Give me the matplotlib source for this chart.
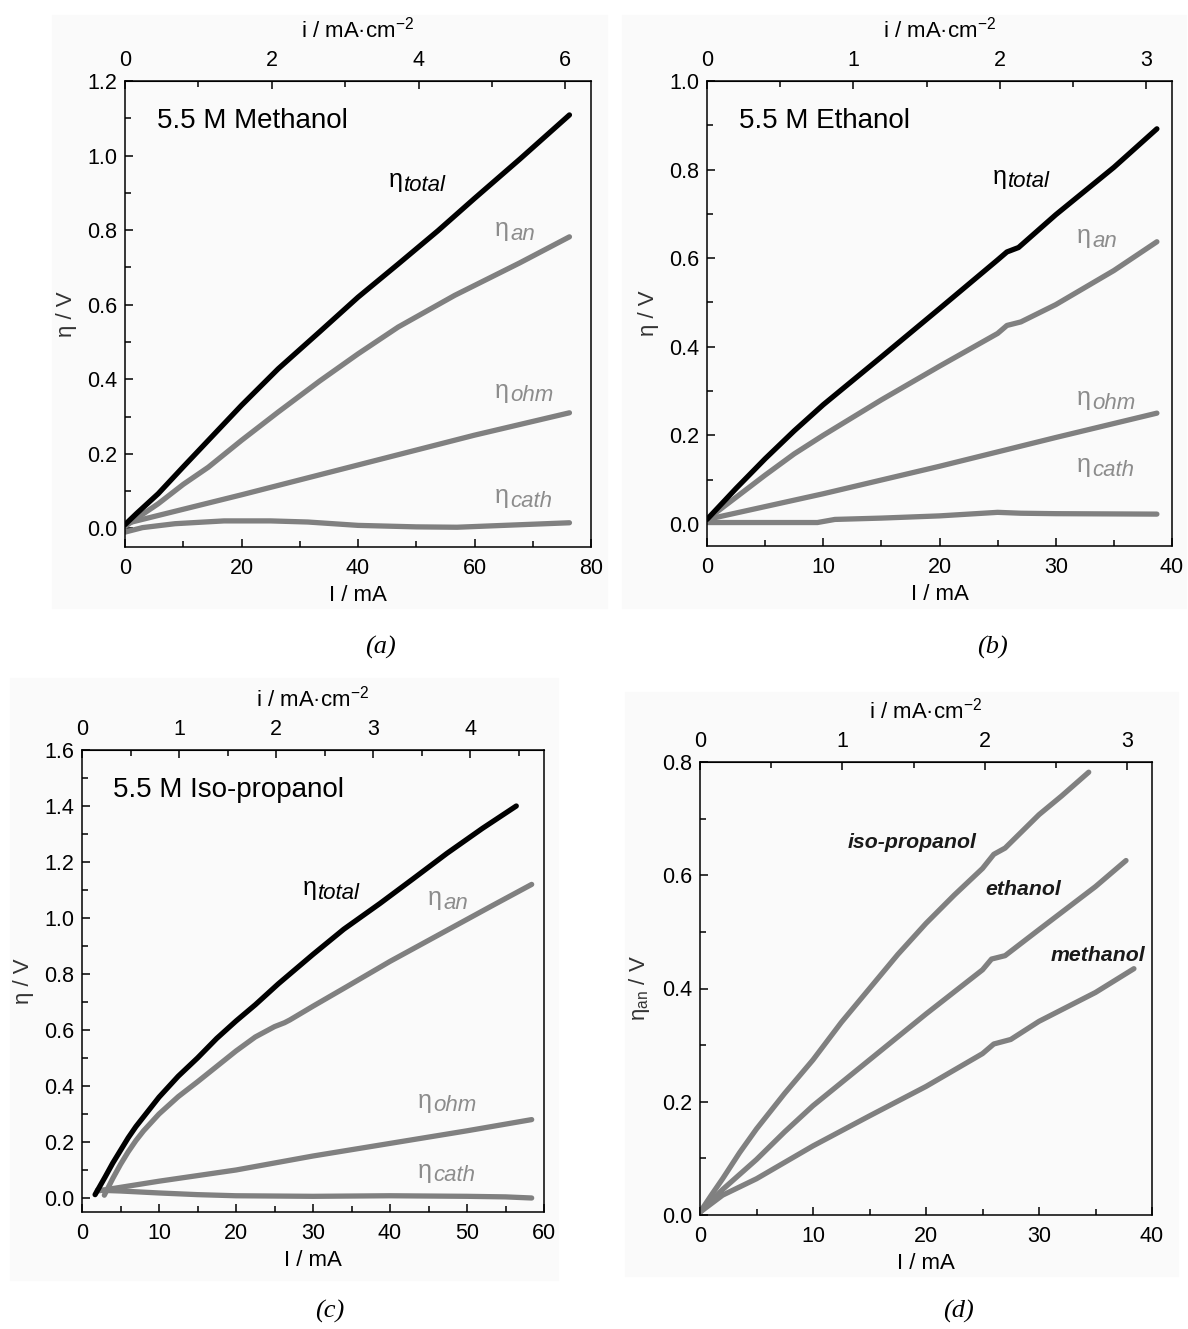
import matplotlib.pyplot as plt
from matplotlib.patches import Rectangle
from matplotlib.ticker import MultipleLocator, FormatStrFormatter

plt.rcParams['font.family'] = ['Liberation Sans', 'DejaVu Sans']
plt.rcParams['mathtext.fontset'] = 'custom'
plt.rcParams['mathtext.rm'] = 'Liberation Sans'
plt.rcParams['mathtext.it'] = 'Liberation Sans:italic'
plt.rcParams['mathtext.sf'] = 'Liberation Sans'

AREA = 12.6  # cm2, current -> current density

# (a) 5.5 M methanol
meoh_I_tot = [0, 2, 5.7, 10, 14.3, 20, 26.3, 33.4, 40, 46.9, 53.7, 60, 67.75, 76.3]
meoh_total = [0.01, 0.04, 0.093, 0.165, 0.236, 0.33, 0.428, 0.527, 0.62, 0.709, 0.798, 0.885, 0.99, 1.109]
meoh_I_an = [0, 2, 5.7, 10, 14.3, 20, 26.3, 33.4, 40, 46.9, 56.6, 67.75, 76.3]
meoh_an = [0.005, 0.027, 0.066, 0.118, 0.164, 0.236, 0.312, 0.395, 0.468, 0.54, 0.625, 0.712, 0.782]
meoh_I_ohm = [0, 20, 40, 60, 76.3]
meoh_ohm = [0.0125, 0.09, 0.17, 0.25, 0.31]
meoh_I_cath = [0, 3, 8.6, 17, 25, 31.4, 40, 50, 57, 65, 76.3]
meoh_cath = [-0.01, 0.002, 0.0125, 0.02, 0.02, 0.017, 0.008, 0.004, 0.003, 0.008, 0.015]

# (b) 5.5 M ethanol
etoh_I_tot = [0, 2.5, 5, 7.5, 10, 15, 20, 25, 25.8, 26.8, 30, 35, 38.7]
etoh_total = [0.01, 0.08, 0.147, 0.21, 0.269, 0.377, 0.486, 0.596, 0.614, 0.624, 0.698, 0.805, 0.892]
etoh_I_an = [0, 2.5, 5, 7.5, 10, 15, 20, 25, 25.8, 27, 30, 35, 38.7]
etoh_an = [0.01, 0.06, 0.11, 0.158, 0.20, 0.28, 0.356, 0.43, 0.448, 0.456, 0.495, 0.572, 0.637]
etoh_I_ohm = [0, 10, 20, 30, 38.7]
etoh_ohm = [0.01, 0.068, 0.13, 0.195, 0.25]
etoh_I_cath = [0, 9.5, 11, 15, 20, 25, 27, 30, 38.7]
etoh_cath = [0.003, 0.003, 0.01, 0.013, 0.018, 0.026, 0.024, 0.023, 0.022]

# (c) 5.5 M iso-propanol
ipa_I_tot = [1.7, 3, 4, 5, 6, 7, 8, 9, 10, 12.5, 15, 17.5, 20, 22.5, 25.5, 30, 34, 38.7, 43, 47.4,
             52, 56.4]
ipa_total = [0.012, 0.075, 0.125, 0.17, 0.215, 0.255, 0.29, 0.325, 0.36, 0.435, 0.50, 0.57, 0.632,
             0.69, 0.765, 0.87, 0.96, 1.052, 1.14, 1.231, 1.32, 1.40]
ipa_I_an = [2.9, 4, 5, 6, 7, 8, 9, 10, 12.5, 15, 17.5, 20, 22.5, 25, 26.3, 27, 30, 34.4, 40, 47.4,
            53, 58.4]
ipa_an = [0.01, 0.07, 0.12, 0.165, 0.205, 0.24, 0.27, 0.30, 0.362, 0.415, 0.47, 0.525, 0.575, 0.612,
          0.626, 0.636, 0.685, 0.755, 0.845, 0.956, 1.04, 1.12]
ipa_I_ohm = [2, 10, 20, 30, 40, 50, 58.4]
ipa_ohm = [0.025, 0.06, 0.10, 0.15, 0.195, 0.24, 0.28]
ipa_I_cath = [2, 5, 10, 15, 20, 30, 40, 50, 55, 58.4]
ipa_cath = [0.028, 0.025, 0.018, 0.012, 0.008, 0.006, 0.008, 0.006, 0.004, 0.0]

# (d) anode overpotential comparison
d_ipa_I = [0, 1, 2, 3.5, 5, 7.5, 10, 12.5, 15, 17.5, 20, 22.5, 25, 26, 27, 30, 32, 34.4]
d_ipa = [0.005, 0.035, 0.064, 0.11, 0.152, 0.215, 0.274, 0.34, 0.40, 0.46, 0.515, 0.565, 0.612, 0.637,
         0.648, 0.707, 0.74, 0.782]
d_etoh_I = [0, 2, 5, 7.5, 10, 15, 20, 25, 25.8, 27, 30, 35, 37.7]
d_etoh = [0.005, 0.045, 0.098, 0.147, 0.193, 0.274, 0.355, 0.433, 0.452, 0.458, 0.504, 0.58, 0.626]
d_meoh_I = [0, 2, 5, 10, 15, 20, 25, 26, 27.5, 30, 35, 38.4]
d_meoh = [0.005, 0.035, 0.064, 0.122, 0.175, 0.227, 0.285, 0.302, 0.31, 0.342, 0.393, 0.435]

GREY = '#808080'
LABEL_GREY = '#8c8c8c'
LW = 3.8
TICK_FS = 15.5
LABEL_FS = 16

fig = plt.figure(figsize=(11.88, 13.29), dpi=100)
W, H = 1188, 1329


def px_rect(x0, y0, x1, y1):
    return [x0 / W, 1 - y1 / H, (x1 - x0) / W, (y1 - y0) / H]


# faint panel backgrounds as in the scanned original
for x0, y0, x1, y1 in [(52, 15, 607, 608), (622, 15, 1186, 608),
                       (10, 678, 558, 1280), (625, 692, 1178, 1276)]:
    fig.patches.append(Rectangle((x0 / W, 1 - y1 / H), (x1 - x0) / W, (y1 - y0) / H,
                                 transform=fig.transFigure, color='#fafafa', zorder=-5))


def setup(ax, xlim, ylim, xmaj, xmin, ymaj, ymin, top_major, top_minor, ylabel):
    ax.set_facecolor('none')
    ax.set_xlim(*xlim)
    ax.set_ylim(*ylim)
    ax.xaxis.set_major_locator(MultipleLocator(xmaj))
    ax.xaxis.set_minor_locator(MultipleLocator(xmin))
    ax.yaxis.set_major_locator(MultipleLocator(ymaj))
    ax.yaxis.set_minor_locator(MultipleLocator(ymin))
    ax.yaxis.set_major_formatter(FormatStrFormatter('%.1f'))
    ax.tick_params(which='both', direction='in', labelsize=TICK_FS, width=1.1)
    ax.tick_params(which='major', length=6)
    ax.tick_params(which='minor', length=4)
    ax.tick_params(axis='x', which='major', pad=8)
    ax.tick_params(axis='y', which='major', pad=5.5)
    for s in ax.spines.values():
        s.set_linewidth(1.1)
    ax.set_xlabel('I / mA', fontsize=LABEL_FS, labelpad=4)
    ax.set_ylabel(ylabel, fontsize=LABEL_FS, labelpad=7, color='#333333')
    sec = ax.secondary_xaxis('top', functions=(lambda I: I / AREA, lambda i: i * AREA))
    sec.set_xticks(top_major)
    sec.set_xticks(top_minor, minor=True)
    sec.tick_params(which='both', direction='in', labelsize=TICK_FS, width=1.1)
    sec.tick_params(which='major', length=6, pad=7)
    sec.tick_params(which='minor', length=4)
    sec.set_xlabel('i / mA\u00b7cm$^{\\mathrm{-2}}$', fontsize=LABEL_FS, labelpad=9)
    return sec


def curve(ax, x, y, color):
    ax.plot(x, y, color=color, lw=LW, solid_capstyle='round', solid_joinstyle='round')


def eta(ax, x, y, sub, color):
    t = ax.text(x, y, 'η', fontsize=18, color=color, va='baseline', ha='left')
    ax.annotate(sub, xy=(1, 0), xycoords=t, xytext=(1, 1), textcoords='offset points',
                fontsize=16, fontstyle='italic', color=color, va='baseline', ha='left')


# (a)
ax = fig.add_axes(px_rect(125, 81, 591, 547))
setup(ax, (0, 80), (-0.05, 1.2), 20, 10, 0.2, 0.1, [0, 2, 4, 6], [1, 3, 5], 'η / V')
curve(ax, meoh_I_cath, meoh_cath, GREY)
curve(ax, meoh_I_ohm, meoh_ohm, GREY)
curve(ax, meoh_I_an, meoh_an, GREY)
curve(ax, meoh_I_tot, meoh_total, 'black')
ax.text(5.5, 1.093, '5.5 M Methanol', fontsize=20, va='center')
eta(ax, 45.3, 0.915, 'total', 'black')
eta(ax, 63.5, 0.784, 'an', LABEL_GREY)
eta(ax, 63.5, 0.35, 'ohm', LABEL_GREY)
eta(ax, 63.5, 0.068, 'cath', LABEL_GREY)

# (b)
ax = fig.add_axes(px_rect(707, 81, 1172, 546))
setup(ax, (0, 40), (-0.05, 1.0), 10, 5, 0.2, 0.1, [0, 1, 2, 3], [0.5, 1.5, 2.5], 'η / V')
curve(ax, etoh_I_cath, etoh_cath, GREY)
curve(ax, etoh_I_ohm, etoh_ohm, GREY)
curve(ax, etoh_I_an, etoh_an, GREY)
curve(ax, etoh_I_tot, etoh_total, 'black')
ax.text(2.75, 0.91, '5.5 M Ethanol', fontsize=20, va='center')
eta(ax, 24.6, 0.768, 'total', 'black')
eta(ax, 31.8, 0.634, 'an', LABEL_GREY)
eta(ax, 31.8, 0.268, 'ohm', LABEL_GREY)
eta(ax, 31.8, 0.116, 'cath', LABEL_GREY)

# (c)
ax = fig.add_axes(px_rect(82, 750, 544, 1212))
setup(ax, (0, 60), (-0.05, 1.6), 10, 5, 0.2, 0.1, [0, 1, 2, 3, 4], [0.5, 1.5, 2.5, 3.5, 4.5], 'η / V')
curve(ax, ipa_I_cath, ipa_cath, GREY)
curve(ax, ipa_I_ohm, ipa_ohm, GREY)
curve(ax, ipa_I_an, ipa_an, GREY)
curve(ax, ipa_I_tot, ipa_total, 'black')
ax.text(4.0, 1.457, '5.5 M Iso-propanol', fontsize=20, va='center')
eta(ax, 28.7, 1.082, 'total', 'black')
eta(ax, 44.9, 1.046, 'an', LABEL_GREY)
eta(ax, 43.6, 0.322, 'ohm', LABEL_GREY)
eta(ax, 43.6, 0.072, 'cath', LABEL_GREY)

# (d)
ax = fig.add_axes(px_rect(700, 762, 1152, 1215))
setup(ax, (0, 40), (0, 0.8), 10, 5, 0.2, 0.1, [0, 1, 2, 3], [0.5, 1.5, 2.5], 'η$_{\\mathrm{an}}$ / V')
curve(ax, d_meoh_I, d_meoh, GREY)
curve(ax, d_etoh_I, d_etoh, GREY)
curve(ax, d_ipa_I, d_ipa, GREY)
for x, y, s in [(18.8, 0.657, 'iso-propanol'), (28.6, 0.574, 'ethanol'), (35.2, 0.459, 'methanol')]:
    ax.text(x, y, s, fontsize=15.3, fontweight='bold', fontstyle='italic',
            color='#1a1a1a', ha='center', va='center')

for x, y, s in [(380, 647, '(a)'), (992, 647, '(b)'), (330, 1311, '(c)'), (958, 1311, '(d)')]:
    fig.text(x / W, 1 - y / H, s, fontsize=19, family='Liberation Serif',
             fontstyle='italic', ha='center', va='center')

fig.savefig('out.png', dpi=100)
